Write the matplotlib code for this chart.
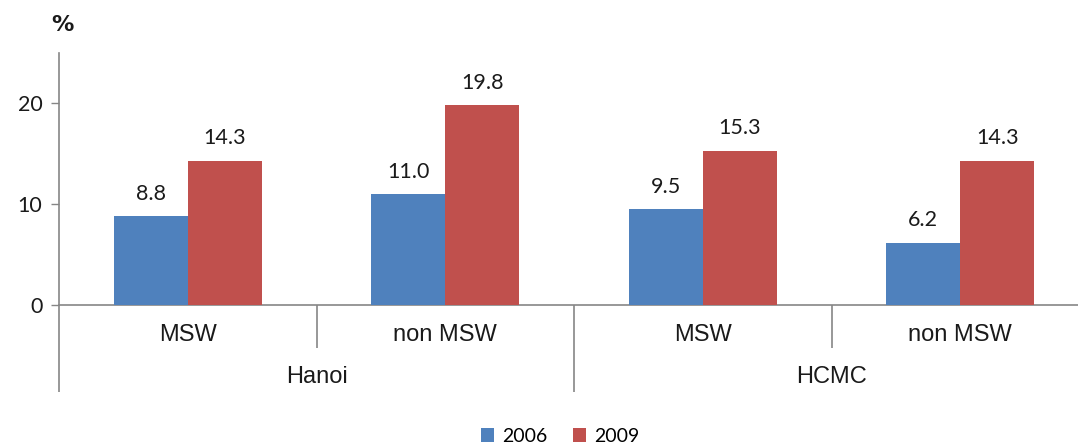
import matplotlib
matplotlib.use("Agg")
import matplotlib.pyplot as plt
from matplotlib.patches import Patch

# Data
subcategories = ["MSW", "non MSW", "MSW", "non MSW"]
cities = ["Hanoi", "HCMC"]
years = ["2006", "2009"]
values_2006 = [8.8, 11.0, 9.5, 6.2]
values_2009 = [14.3, 19.8, 15.3, 14.3]

blue = "#4F81BD"
red = "#C0504D"
axis_gray = "#868686"
num_font = "Lato"
cat_font = "Liberation Sans"

W, H = 1078, 443
fig = plt.figure(figsize=(W / 100, H / 100), dpi=100)
left_px, right_px, top_px, zero_px = 59, 1089, 53, 305
ax = fig.add_axes([left_px / W, (H - zero_px) / H,
                   (right_px - left_px) / W, (zero_px - top_px) / H])

x = list(range(len(subcategories)))
bw = 0.287
b1 = ax.bar([i - bw / 2 for i in x], values_2006, width=bw, color=blue, zorder=3)
b2 = ax.bar([i + bw / 2 for i in x], values_2009, width=bw, color=red, zorder=3)

for bars, vals in ((b1, values_2006), (b2, values_2009)):
    for rect, v in zip(bars, vals):
        ax.annotate(f"{v:.1f}", (rect.get_x() + rect.get_width() / 2, v),
                    xytext=(0, 9), textcoords="offset points",
                    ha="center", va="bottom", fontsize=15.5,
                    family=num_font, color="#1a1a1a")

ax.set_xlim(-0.5, len(subcategories) - 0.5)
ax.set_ylim(0, 25)
ax.set_yticks([0, 10, 20])
ax.set_yticklabels(["0", "10", "20"], fontsize=15.5, family=num_font, color="#1a1a1a")
ax.tick_params(axis="y", length=6, width=1, color=axis_gray, pad=6)
ax.set_xticks([])

for s in ("top", "right"):
    ax.spines[s].set_visible(False)
for s in ("left", "bottom"):
    ax.spines[s].set_color(axis_gray)
    ax.spines[s].set_linewidth(1.2)

# Two-level category axis
short_y = (zero_px - 348) / (zero_px - top_px)
long_y = (zero_px - 392) / (zero_px - top_px)
sub_y = (zero_px - 335) / (zero_px - top_px)
city_y = (zero_px - 377) / (zero_px - top_px)
trans = ax.get_xaxis_transform()
for xb, yb in ((-0.5, long_y), (0.5, short_y), (1.5, long_y), (2.5, short_y), (3.5, long_y)):
    ax.plot([xb, xb], [0, yb], transform=trans, color=axis_gray, lw=1.2,
            clip_on=False, solid_capstyle="butt")

for i, name in enumerate(subcategories):
    ax.text(i, sub_y, name, transform=trans, ha="center", va="center",
            fontsize=17, family=cat_font, color="#1a1a1a")
for j, name in enumerate(cities):
    ax.text(2 * j + 0.5, city_y, name, transform=trans, ha="center", va="center",
            fontsize=17, family=cat_font, color="#1a1a1a")

fig.text(62 / W, 1 - 25 / H, "%", ha="center", va="center", fontsize=16,
         fontweight="bold", family="DejaVu Sans", color="#1a1a1a")

handles = [Patch(facecolor=blue, label=years[0]), Patch(facecolor=red, label=years[1])]
fig.legend(handles=handles, loc="center", bbox_to_anchor=(560 / W, 1 - 436 / H),
           ncol=2, frameon=False, handlelength=0.7, handleheight=0.7,
           handletextpad=0.4, columnspacing=1.3,
           prop={"family": num_font, "size": 14})

fig.savefig("out.png", dpi=100)
